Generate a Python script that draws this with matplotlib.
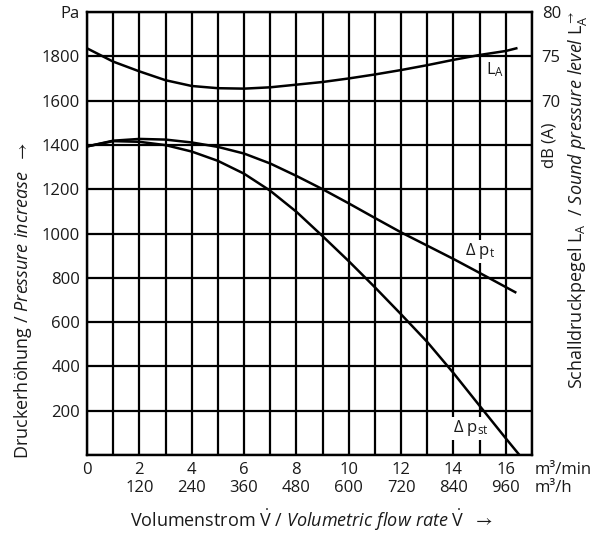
import numpy as np
import matplotlib.pyplot as plt
import matplotlib.transforms as mtransforms

plt.rcParams['font.family'] = ['Open Sans', 'DejaVu Sans']
plt.rcParams['mathtext.fontset'] = 'custom'
plt.rcParams['mathtext.rm'] = 'Open Sans'
plt.rcParams['mathtext.it'] = 'Open Sans:italic'
plt.rcParams['mathtext.bf'] = 'Open Sans:bold'
plt.rcParams['mathtext.fallback'] = 'stixsans'

# Kennlinien (Volumenstrom in m3/min)
flow_st = [0, 1, 2, 3, 4, 5, 6, 7, 8, 9, 10, 11, 12, 13, 14, 15, 16, 16.52]
p_st = [1393, 1417, 1414, 1399, 1370, 1328, 1270, 1193, 1098, 988,
        875, 757, 635, 510, 370, 222, 75, 0]

flow_t = [0, 1, 2, 3, 4, 5, 6, 7, 8, 9, 10, 11, 12, 13, 14, 15, 16, 16.36]
p_t = [1393, 1419, 1427, 1424, 1411, 1391, 1361, 1316, 1260, 1200,
       1136, 1070, 1005, 945, 885, 822, 758, 735]

flow_la = [0, 1, 2, 3, 4, 5, 6, 7, 8, 9, 10, 11, 12, 13, 14, 15, 16, 16.4]
la_db = [75.9, 74.4, 73.3, 72.3, 71.65, 71.4, 71.35, 71.5, 71.8, 72.1,
         72.5, 72.95, 73.45, 74.0, 74.6, 75.15, 75.6, 75.9]

x_min = list(range(0, 17, 2))
y_pa = list(range(0, 2001, 200))
y_db = [65, 70, 75, 80]

fs = 12
fs_lab = 13
lw = 1.6
ink = '#1a1a1a'

fig = plt.figure(figsize=(6, 5.34), dpi=100)
ax = fig.add_axes([87 / 600, 1 - 455 / 534, 445 / 600, 443 / 534])

ax.set_xlim(0, 17)
ax.set_ylim(0, 2000)
ax.set_xticks(range(0, 18))
xlabels = []
for v in range(0, 18):
    if v in x_min and v > 0:
        xlabels.append(f"{v}\n{60 * v}")
    elif v == 0:
        xlabels.append("0")
    else:
        xlabels.append("")
ax.set_xticklabels(xlabels, fontsize=fs, linespacing=1.2)
ax.set_yticks(y_pa)
ylabels = [str(v) for v in y_pa]
ylabels[0] = ""
ylabels[-1] = "Pa"
ax.set_yticklabels(ylabels, fontsize=fs)
ax.tick_params(length=0, pad=5, colors=ink)
ax.grid(True, color='black', lw=lw)
ax.set_axisbelow(True)
for s in ax.spines.values():
    s.set_linewidth(lw)

ax.plot(flow_t, p_t, color='black', lw=1.8, zorder=3)
ax.plot(flow_st, p_st, color='black', lw=1.8, zorder=3)

ax2 = ax.twinx()
ax2.set_ylim(30, 80)
ax2.set_yticks(y_db)
ax2.set_yticklabels(["dB (A)", "70", "75", "80"], fontsize=fs)
ax2.get_yticklabels()[0].set_rotation(90)
ax2.get_yticklabels()[0].set_va('center')
ax2.tick_params(length=0, pad=7, colors=ink)
for s in ax2.spines.values():
    s.set_linewidth(lw)
ax2.plot(flow_la, la_db, color='black', lw=1.8, zorder=3)

bbox = dict(facecolor='white', edgecolor='none', pad=1)
ax2.text(15.25, 73.5, "L$_\\mathregular{A}$", fontsize=fs, ha='left', va='center',
         color=ink)
ax.text(15.0, 920, "Δ p$_\\mathregular{t}$", fontsize=fs, ha='center', va='center',
        bbox=bbox, zorder=2, color=ink)
ax.text(14.65, 120, "Δ p$_\\mathregular{st}$", fontsize=fs, ha='center', va='center',
        bbox=bbox, zorder=2, color=ink)

trans = mtransforms.blended_transform_factory(ax.transData, ax.transAxes)
ax.annotate("m³/min\nm³/h", xy=(17, 0), xycoords=trans, xytext=(2, -5),
            textcoords='offset points', ha='left', va='top', fontsize=fs,
            linespacing=1.2, color=ink)

fig.text(311 / 600, 1 - 520 / 534,
         "Volumenstrom $\\dot{\\mathrm{V}}$ / $\\mathit{Volumetric\\ flow\\ rate}$ $\\dot{\\mathrm{V}}$  $\\rightarrow$",
         ha='center', va='center', fontsize=fs_lab, color=ink)
fig.text(23 / 600, 1 - 300 / 534,
         "Druckerhöhung / $\\mathit{Pressure\\ increase}$  $\\rightarrow$",
         ha='center', va='center', rotation=90, fontsize=fs_lab, color=ink)
fig.text(578 / 600, 1 - 200 / 534,
         "Schalldruckpegel L$_\\mathregular{A}$  / $\\mathit{Sound\\ pressure\\ level}$ L$_\\mathregular{A}^{\\rightarrow}$",
         ha='center', va='center', rotation=90, fontsize=fs_lab, color=ink)

fig.savefig("out.png", dpi=100)
